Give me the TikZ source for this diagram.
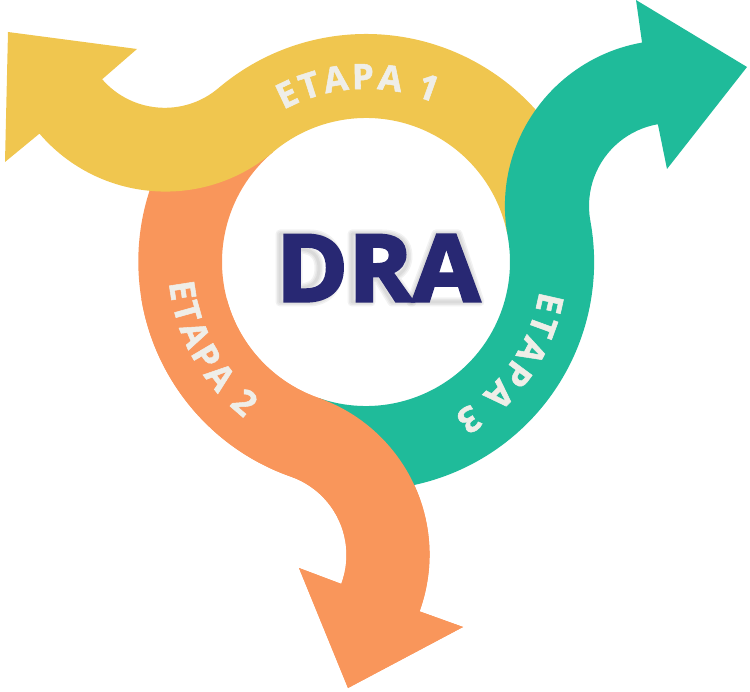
\documentclass[tikz,border=0pt]{standalone}
\usepackage{fontspec}
\setmainfont{Open Sans}
\newfontfamily\gruesa[BoldFeatures={FakeBold=1.5}]{Open Sans}
\newfontfamily\gruesota[BoldFeatures={FakeBold=3,FakeStretch=1.05}]{Open Sans}
\usetikzlibrary{decorations.text}
\definecolor{ambar}{HTML}{F0C64F}
\definecolor{verde}{HTML}{1FBB9A}
\definecolor{naranja}{HTML}{F9965B}
\definecolor{tinta}{HTML}{282873}
\definecolor{rotulo}{HTML}{EFEEE8}
\newcommand{\rotulofont}{\gruesa\fontsize{35}{35}\selectfont\bfseries}
\newcommand{\naranjapath}{
  ([shift={(130.3:144)}]c) arc[start angle=130.3,end angle=250.7,radius=144]
  arc[start angle=70.7,end angle=-20,radius=166]
  -- (463,-627) -- (348,-688) -- (299,-568)
  -- ([shift={(-20.4:83)}]oc) arc[start angle=-20.4,end angle=70.7,radius=83]
  arc[start angle=250.7,end angle=150,radius=228] -- cycle}
\tikzset{
  rotulo/.style={decorate,decoration={text along path,text={#1},text color=rotulo,
     text align={fit to path},raise=0pt}},
  halo/.style={draw=black,line join=round,opacity=.05,line width=#1}
}
\begin{document}
\begin{tikzpicture}[x=1pt,y=1pt]
\useasboundingbox (0,0) rectangle (750,-692);
\coordinate (c) at (366,-262);
\coordinate (yc) at (164.8,-24.8);
\coordinate (gc) at (672,-206);
\coordinate (oc) at (263.5,-555);
% orange (first pass, its tail goes under the yellow band)
\fill[naranja] \naranjapath;
% yellow
\fill[ambar] (8,-32) -- (137,-49) -- ([shift={(-139:83)}]yc)
  arc[start angle=-139,end angle=-49.7,radius=83]
  arc[start angle=130.3,end angle=20,radius=228]
  -- ([shift={(12:144)}]c)
  arc[start angle=12,end angle=130.3,radius=144]
  arc[start angle=-49.7,end angle=-139.4,radius=166]
  -- (5,-162) -- cycle;
% green
\fill[verde] ([shift={(-109:144)}]c)
  arc[start angle=-109,end angle=10.4,radius=144]
  arc[start angle=190.4,end angle=100,radius=166]
  -- (636,0) -- (747,-67) -- (667,-169) -- ([shift={(99.8:83)}]gc)
  arc[start angle=99.8,end angle=190.4,radius=83]
  arc[start angle=10.4,end angle=-95,radius=228] -- cycle;
% orange over green
\begin{scope}
\clip (0,-300) rectangle (750,-692);
\fill[naranja] \naranjapath;
\end{scope}
% labels
\path[rotulo={|\rotulofont|ETAPA 1}] ([shift={(118.5:173)}]c) arc[start angle=118.5,end angle=67,radius=173];
\path[rotulo={|\rotulofont|ETAPA 2}] ([shift={(186:198)}]c) arc[start angle=186,end angle=232,radius=198];
\path[rotulo={|\rotulofont|ETAPA 3}] ([shift={(-9.5:176)}]c) arc[start angle=-9.5,end angle=-60,radius=176];
% soft halo behind the centre word
\foreach \w in {9,6,3}{
  \draw[halo=\w pt] (280,-234) -- (310,-234) .. controls (330,-234) and (339,-250) .. (339,-268)
     .. controls (339,-288) and (328,-302) .. (308,-302) -- (280,-302) -- cycle;
  \draw[halo=\w pt] (298,-249) -- (298,-288) .. controls (312,-288) and (319,-282) .. (319,-268)
     .. controls (319,-255) and (312,-249) .. (298,-249) -- cycle;
  \draw[halo=\w pt] (352,-234) -- (382,-234) .. controls (400,-234) and (408,-243) .. (408,-256)
     .. controls (408,-266) and (403,-273) .. (395,-277) -- (412,-302) -- (392,-302) -- (378,-279)
     -- (371,-279) -- (371,-302) -- (352,-302) -- cycle;
  \draw[halo=\w pt] (436,-234) -- (458,-234) -- (480,-302) -- (411,-302) -- cycle;
}
% centre
\node[text=tinta,inner sep=0pt,font=\gruesota\fontsize{93}{93}\selectfont\bfseries] (dra) at (378,-268) {DRA};
\end{tikzpicture}
\end{document}
